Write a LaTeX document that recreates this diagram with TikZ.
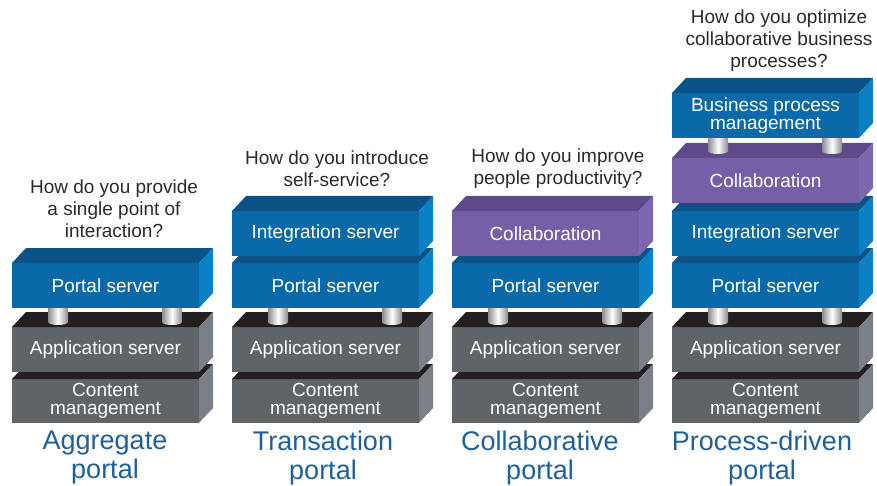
\documentclass[tikz,border=0pt]{standalone}
\usepackage{fontspec}
\setmainfont{Liberation Sans}
\definecolor{bluefront}{HTML}{0A6AA9}
\definecolor{bluetop}{HTML}{0B5287}
\definecolor{blueside}{HTML}{0B80C5}
\definecolor{purplefront}{HTML}{7560A7}
\definecolor{purpletop}{HTML}{5E4A88}
\definecolor{purpleside}{HTML}{7D68B0}
\definecolor{grayfront}{HTML}{5E6468}
\definecolor{graytop}{HTML}{231F20}
\definecolor{grayside}{HTML}{7B8088}
\definecolor{titleblue}{HTML}{1F5F9A}
\definecolor{qgray}{HTML}{2A2A2A}
\newcommand\fs[2]{\fontsize{#1pt}{#2pt}\selectfont}
\tikzset{
  front/.style={minimum width=187pt, minimum height=45pt, inner sep=0pt, outer sep=0pt,
    anchor=north west, text=white, font=\fs{19}{18}, align=center},
  question/.style={text=qgray, font=\fs{19}{22}, align=center, inner sep=0pt},
  title/.style={text=titleblue, font=\fs{27}{29}, align=center, inner sep=0pt},
  cyl/.style={left color=black!45, right color=black!45, middle color=white},
}
% #1 name, #2 x0, #3 front top y, #4 colour scheme, #5 text, #6 height
\newcommand\blk[6]{%
  \node[front, minimum height=#6pt, fill=#4front] (#1) at (#2,#3) {#5};
  \fill[#4top] (#1.north west) -- ++(14pt,15pt) -- ++(187pt,0pt) -- (#1.north east) -- cycle;
  \fill[#4side] (#1.north east) -- ++(14pt,15pt) -- ++(0pt,-#6pt) -- (#1.south east) -- cycle;
}
% #1 x0 of stack, #2 top y, #3 bottom y
\newcommand\cyls[3]{%
  \shade[cyl] (#1+36,#2) -- (#1+36,#3) .. controls (#1+36,#3+4) and (#1+56,#3+4) .. (#1+56,#3) -- (#1+56,#2) -- cycle;
  \shade[cyl] (#1+150,#2) -- (#1+150,#3) .. controls (#1+150,#3+4) and (#1+170,#3+4) .. (#1+170,#3) -- (#1+170,#2) -- cycle;
}
\begin{document}
\begin{tikzpicture}[x=1pt,y=-1pt]
\useasboundingbox (0,0) rectangle (877,486);
% Stack 1
\blk{c1}{12}{379}{gray}{Content\\management}{44}
\blk{a1}{12}{327}{gray}{Application server}{45}
\cyls{12}{300}{322}
\blk{p1}{12}{263}{blue}{Portal server}{45}
% Stack 2
\blk{c2}{232}{379}{gray}{Content\\management}{44}
\blk{a2}{232}{327}{gray}{Application server}{45}
\cyls{232}{300}{322}
\blk{p2}{232}{263}{blue}{Portal server}{45}
\blk{i2}{232}{211}{blue}{Integration server}{45}
% Stack 3
\blk{c3}{452}{379}{gray}{Content\\management}{44}
\blk{a3}{452}{327}{gray}{Application server}{45}
\cyls{452}{300}{322}
\blk{p3}{452}{263}{blue}{Portal server}{45}
\blk{k3}{452}{211}{purple}{Collaboration}{45}
% Stack 4
\blk{c4}{672}{379}{gray}{Content\\management}{44}
\blk{a4}{672}{327}{gray}{Application server}{45}
\cyls{672}{300}{322}
\blk{p4}{672}{263}{blue}{Portal server}{45}
\blk{i4}{672}{211}{blue}{Integration server}{45}
\blk{k4}{672}{158}{purple}{Collaboration}{45}
\cyls{672}{130}{151}
\blk{b4}{672}{93}{blue}{Business process\\management}{45}
% Questions
\node[question] (q1) at (114,209) {How do you provide\\a single point of\\interaction?};
\node[question] (q2) at (337,169) {How do you introduce\\self-service?};
\node[question] (q3) at (558,169) {How do you improve\\people productivity?};
\node[question] (q4) at (779,41) {How do you optimize\\collaborative business\\processes?};
% Titles
\node[title] (t1) at (105,458) {Aggregate\\portal};
\node[title] (t2) at (323,458) {Transaction\\portal};
\node[title] (t3) at (540,458) {Collaborative\\portal};
\node[title] (t4) at (762,458) {Process-driven\\portal};
\end{tikzpicture}
\end{document}
